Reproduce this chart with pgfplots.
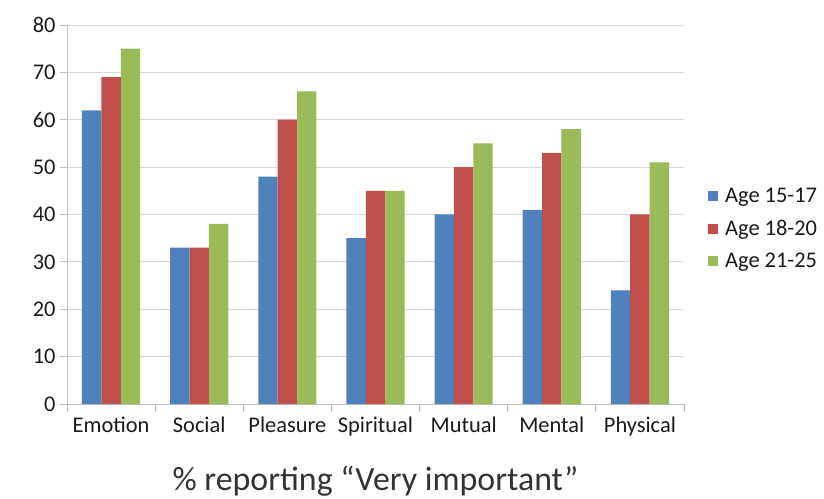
\documentclass[border=0pt]{standalone}
\usepackage{pgfplots}
\pgfplotsset{compat=1.18}
\usepackage{fontspec}
\setmainfont{Carlito}
\definecolor{cblue}{HTML}{4F81BD}
\definecolor{cred}{HTML}{C0504D}
\definecolor{cgreen}{HTML}{9BBB59}
\definecolor{gridc}{HTML}{D9D9D9}
\definecolor{axc}{HTML}{BFBFBF}
\definecolor{txt}{HTML}{1A1A1A}
\begin{document}
\begin{tikzpicture}
\begin{axis}[
  at={(0,0)}, anchor=south west,
  scale only axis, width=617bp, height=379bp,
  ybar, bar width=0.22,
  xmin=-0.5, xmax=6.5, ymin=0, ymax=80,
  ytick={0,10,...,80},
  xtick={0,...,6},
  xticklabels={Emotion,Social,Pleasure,Spiritual,Mutual,Mental,Physical},
  minor xtick={-0.5,0.5,...,6.5},
  major x tick style={draw=none},
  minor tick length=8bp, major tick length=7bp,
  tick align=outside,
  axis x line*=bottom, axis y line*=left,
  axis line style={axc, line width=0.8pt, -},
  tick style={axc, line width=0.8pt},
  ymajorgrids, major grid style={gridc, line width=0.8pt},
  /pgf/number format/assume math mode=true,
  tick label style={font=\fontsize{22.5}{27}\selectfont, text=txt},
  yticklabel style={xshift=-1bp},
  xticklabel style={yshift=-2bp},
  xlabel={\% reporting “Very important”},
  x label style={at={(axis description cs:0.5,0)}, anchor=center, yshift=-77bp, font=\fontsize{34}{40}\selectfont, text=black!80},
  legend style={at={(1.034,0.462)}, anchor=west, draw=none, fill=none,
    font=\fontsize{22.5}{27}\selectfont, text=txt, row sep=12bp,
    /tikz/every odd column/.append style={column sep=5bp}},
  legend cell align=left,
  legend image code/.code={\fill[#1] (0bp,-5bp) rectangle (10bp,5bp);},
]
\addplot[fill=cblue, draw=none, bar shift=-0.22] coordinates {(0,62) (1,33) (2,48) (3,35) (4,40) (5,41) (6,24)};
\addplot[fill=cred, draw=none, bar shift=0] coordinates {(0,69) (1,33) (2,60) (3,45) (4,50) (5,53) (6,40)};
\addplot[fill=cgreen, draw=none, bar shift=0.22] coordinates {(0,75) (1,38) (2,66) (3,45) (4,55) (5,58) (6,51)};
\legend{Age 15-17, Age 18-20, Age 21-25}
\end{axis}
\pgfresetboundingbox
\path (-67bp,-95bp) rectangle (757bp,404bp);
\end{tikzpicture}
\end{document}
